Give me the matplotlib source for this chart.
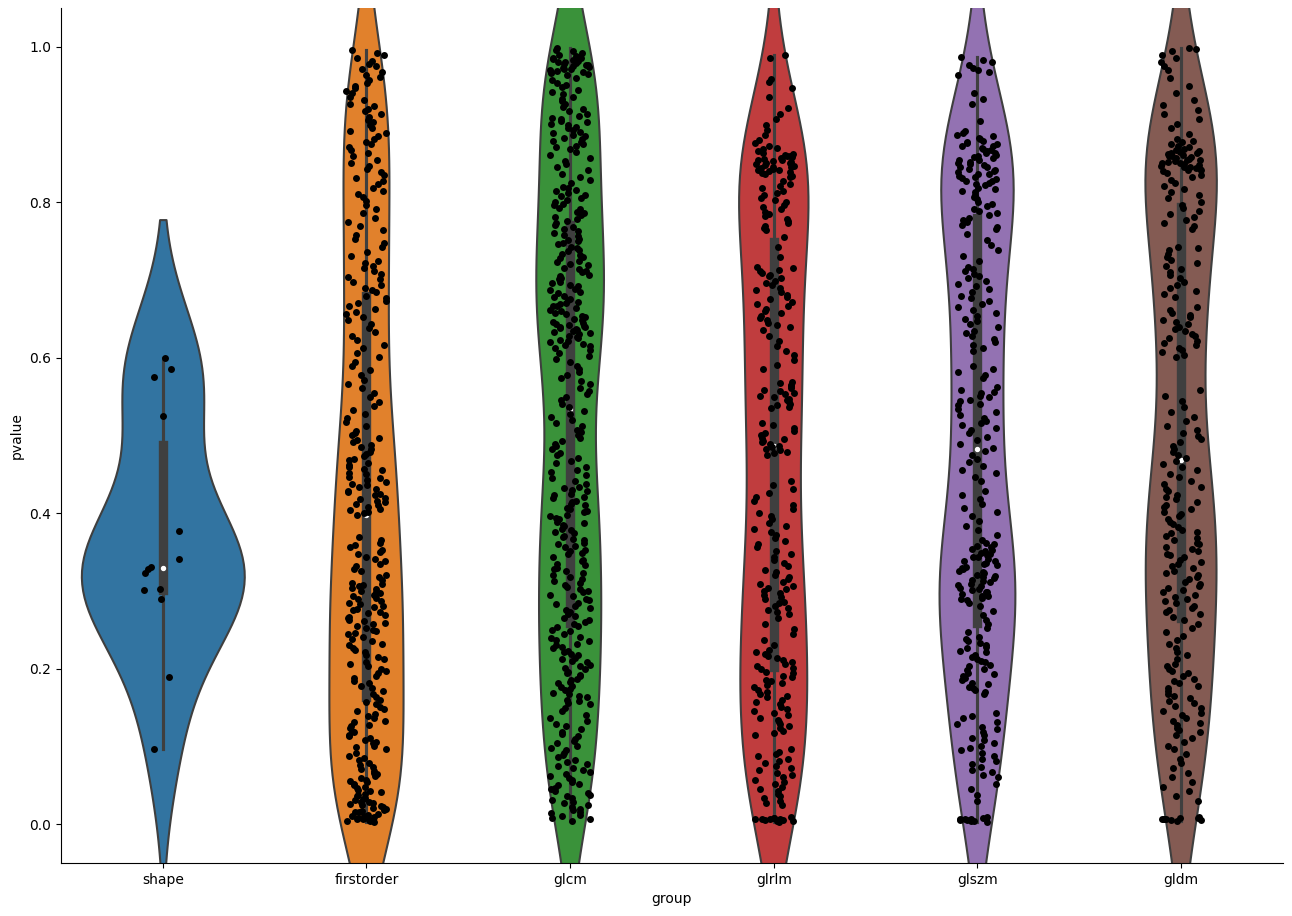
import numpy as np
import pandas as pd
import matplotlib
matplotlib.use('Agg')
import matplotlib.pyplot as plt
from matplotlib.collections import PolyCollection
import seaborn as sns

# p-values per feature group (in thousandths)
groups = ['shape', 'firstorder', 'glcm', 'glrlm', 'glszm', 'gldm']
colors = ['#3274a1', '#e1812c', '#3a923a', '#c03d3e', '#9372b2', '#845b53']

shape = [600, 585, 575, 525, 377, 341, 328, 331, 323, 303, 301, 290, 189, 96]

firstorder = [
    3, 4, 4, 5, 6, 7, 8, 9, 10, 11, 12, 13, 15, 16, 17, 18, 19, 21, 22, 23,
    24, 26, 27, 28, 29, 31, 32, 34, 36, 38, 39, 41, 43, 44, 46, 48, 50, 52, 54, 55,
    57, 59, 62, 64, 66, 68, 71, 73, 76, 79, 82, 85, 88, 92, 96,
    99, 101, 104, 106, 108, 111, 113, 115, 118, 120, 123, 126, 128, 131, 133, 136,
    139, 142, 145, 148, 151, 154, 157, 160, 163,
    168, 171, 175, 178, 181, 184, 188, 191, 194, 197, 200, 203, 206, 209, 212, 215,
    218, 221, 224, 227, 230, 232, 235, 238, 241,
    244, 246, 248, 250, 252, 255, 257, 259, 261, 263, 265, 267, 269, 271, 273, 275,
    277, 279, 281, 283, 285, 287, 289, 291, 293, 295, 297, 299, 300, 302, 304, 306,
    307, 309, 310,
    314, 318, 321, 325, 328, 332, 335, 338, 341, 344, 347, 350, 353, 356, 359, 362,
    365, 369,
    398, 400, 402, 404, 406, 408, 410, 412, 414, 416, 418, 420, 423, 425, 427, 429,
    431, 434, 436, 438, 440, 443, 445, 447, 450, 452, 455, 457, 460, 462, 465, 468,
    470, 473, 476, 479, 482, 485, 488, 491, 494, 497, 500, 503, 506,
    512, 517, 522, 527, 533, 538, 543, 549, 555, 561, 566, 571,
    578, 584, 589, 595, 601, 606, 612, 617, 623, 628, 633, 638, 643, 648,
    652, 656, 659, 663, 666, 670, 673, 677, 680, 684, 687, 690, 694, 697, 701, 704,
    708, 711, 715, 718, 722, 725,
    731, 736, 742, 747, 753, 758, 764, 769, 775, 780, 786, 791, 797, 802,
    807, 811, 815, 819, 823, 827, 831, 835, 839, 843, 847, 851, 855, 859, 863, 867,
    871, 875, 878, 881,
    885, 889, 892, 896, 899, 903, 906, 910, 913, 917, 920, 924, 927, 931,
    936, 940, 943, 947, 950, 954, 957, 961, 964, 968, 971, 975, 978, 982, 985, 989,
    992, 996,
]

glcm = [
    4, 6, 8, 10, 12, 14, 16, 18, 20, 22, 25, 27, 29, 31, 34, 36, 38, 40, 43, 45,
    47, 50, 52, 54, 57, 59, 62, 64, 67, 69, 72, 75, 77, 80, 83, 86, 89, 92, 95, 98,
    101, 104, 107, 110, 113, 116, 119, 122, 126, 129, 133, 137, 141, 145, 149,
    154, 156, 158, 160, 163, 165, 167, 169, 172, 174, 176, 178, 181, 183, 185, 187,
    190, 192, 194, 196, 199, 201, 203, 205, 208, 210, 212, 214, 217, 219, 221, 223,
    226, 228, 230, 232, 235, 237, 239, 241,
    245, 248, 250, 253, 255, 258, 260, 263, 265, 268, 270, 273, 275, 278, 280, 283,
    285, 288, 290, 293, 295, 298, 300, 303, 305, 308, 310, 313, 315, 318, 320, 323,
    325, 328, 330, 333, 335, 338, 340, 343,
    347, 349, 351, 353, 356, 358, 360, 362, 365, 367, 369, 371, 374, 376, 378, 380,
    383, 385, 387, 389, 392, 394, 396, 398, 401, 403, 405, 407, 410, 412, 414, 416,
    419, 421, 423, 425, 428, 430, 432, 434,
    438, 442, 445, 449, 453, 456, 460, 464, 467, 471, 475, 478, 482, 486, 489, 493,
    497, 500, 504, 507,
    512, 516, 520, 524, 528, 532, 537, 541, 545, 549, 553, 557, 561, 566, 570, 574,
    578, 582, 586, 590, 594, 598, 602, 606, 610,
    613, 615, 617, 618, 620, 622, 623, 625, 627, 628, 630, 632, 633, 635, 636, 637,
    638, 639, 640, 641, 642, 643, 645, 646, 648, 650, 652, 654, 656, 658, 660, 662,
    664, 666, 667, 669, 671, 672, 674, 676,
    678, 680, 683, 685, 687, 689, 692, 694, 696, 698, 701, 703, 705, 707, 710, 712,
    714, 716, 719, 721, 723, 725, 728, 730, 732, 734, 737, 739, 741, 743, 746, 748,
    750, 751, 753,
    756, 758, 761, 763, 766, 768, 771, 773, 776, 778, 781, 783, 786, 788, 791, 793,
    796, 798, 801, 803, 806, 808, 810, 812, 814, 816, 818, 820,
    825, 829, 833, 837, 841, 845, 849, 853, 857, 861, 865, 868,
    871, 873, 875, 877, 879, 881, 883, 885, 887, 889, 891, 893, 895, 897, 899, 901,
    903, 905, 907, 909, 911, 914, 917, 920, 923,
    927, 930, 933, 936, 939, 942, 945, 948, 951, 954, 957, 960,
    964, 965, 966, 967, 968, 969, 970, 971, 972, 973, 974, 975, 976, 977, 978, 979,
    980, 981, 982, 983, 984, 985, 986, 987, 988, 990, 992, 994, 996, 998,
]

glrlm = [
    3, 4, 4, 5, 5, 6, 6, 7, 7, 8, 8, 9,
    24, 27, 30, 33, 36, 39, 42, 45, 48, 51, 54, 57, 60, 63, 66, 69, 72, 75, 78, 81,
    84, 87, 90, 93, 96,
    114, 117, 120, 123, 126, 129, 131, 134, 137, 140, 143, 146, 148, 151, 154, 157,
    160, 163, 165, 168, 170, 173,
    176, 179, 181, 184, 186, 189, 191, 194, 196, 199, 201, 204, 206, 209, 211, 214,
    216, 219, 221, 224,
    230, 237, 244, 251, 258, 265,
    270, 273, 275, 278, 281, 284, 286, 289, 292, 295, 297, 300, 302, 304, 306, 309,
    312, 315, 318, 321, 324, 327,
    332, 336, 340, 344, 348, 352, 356, 360, 364, 368, 372, 376, 380, 384, 388, 392,
    396, 400,
    406, 411, 416, 421, 426, 431, 436, 441,
    475, 477, 479, 481, 483, 485, 487, 489, 491, 493, 495, 497, 500, 503, 506,
    510, 513, 516,
    535, 537, 539, 541, 543, 545, 547, 549, 551, 553, 555, 557, 559, 561, 563, 565,
    567, 569,
    585, 591, 597, 603, 609, 615, 621, 628,
    636, 639, 642, 645, 648, 651, 654, 657, 660, 663, 666, 669, 672, 675, 678, 681,
    684, 687, 690, 693, 696, 699, 702, 705, 707, 709, 711, 713, 715, 717,
    730, 742, 755,
    764, 767, 770, 773, 776, 779, 782, 785, 788, 791, 794, 797, 800, 803, 806, 809,
    812, 815, 818, 821, 824, 828,
    832, 834, 836, 838, 839, 840, 841, 842, 843, 844, 845, 846, 847, 848, 849, 850,
    851, 852, 853, 854, 855, 856, 857, 858, 859, 860, 861, 862, 864, 866, 868, 870,
    873, 876, 880,
    886, 893, 900, 907, 914, 921,
    935, 947, 955, 959,
    985, 990,
]

glszm = [
    3, 4, 4, 5, 5, 6, 6, 7, 8, 9,
    30, 38, 45, 52,
    60, 63, 67, 70, 74, 77, 81, 84, 88, 91, 95, 98, 101, 104, 108, 111, 115, 118,
    122, 125, 129, 132, 136, 139, 143,
    167, 170, 172, 175, 177, 180, 182, 185, 188, 190, 193, 195, 198, 200, 203, 205,
    208, 210, 213, 215, 218, 221, 223, 226, 228, 231, 233, 236, 238, 241,
    247, 252, 258, 263, 269, 274, 280, 285,
    288, 289, 291, 293, 294, 296, 298, 299, 301, 303, 304, 306, 308, 309, 311, 313,
    314, 316, 318, 319, 321, 323, 324, 326, 328, 329, 331, 333, 334, 336, 338, 339,
    341, 343, 344, 346, 348, 349, 351, 353, 354, 356, 358, 360, 362,
    366, 372, 378, 384, 390, 396, 402, 407, 412, 418, 424, 429,
    442, 447, 452, 456, 461, 466, 470, 475, 480, 484, 489, 494, 498, 503, 507,
    510, 513, 516, 519, 522, 526, 530, 534,
    539, 541, 544, 546, 549, 551, 554, 556, 559, 562,
    574, 578, 582, 586, 589,
    609, 613, 617, 620, 624, 628, 632, 635, 639, 643, 647, 650, 654, 658, 662, 665,
    669, 673, 677, 680, 684, 688, 692, 695, 699,
    702, 705, 708, 711, 714, 717,
    724, 731, 738, 745, 752, 759,
    765, 768, 771, 774, 777, 780, 783, 786, 789, 792, 795, 798, 801, 804, 807, 810,
    813, 815, 817, 819,
    822, 824, 825, 827, 828, 830, 831, 833, 834, 836, 837, 839, 840, 842, 843, 845,
    846, 848, 849, 851, 852, 854, 855, 857, 858, 860, 861, 863, 864, 866, 867, 869,
    870, 872, 873, 875, 876, 878, 879, 881, 883, 885, 887, 889, 892,
    905,
    926, 933, 940,
    964, 967, 970, 973, 977, 980, 983, 987,
]

gldm = [
    4, 5, 5, 6, 6, 7, 7, 8, 8, 9,
    30, 36, 42, 48, 54, 60, 66, 72, 78, 84, 90, 96, 101, 106, 111,
    115, 118, 121, 124, 127, 130, 133, 137, 140, 143, 146, 149, 152, 156, 159, 162,
    165, 168, 171, 175, 178, 181, 184, 187, 190, 194, 197, 200, 203, 206,
    212, 217, 222, 227, 232, 237, 242, 247, 252, 257, 262, 266,
    270, 273, 276, 278, 281, 284, 287, 290, 292, 295, 298, 301, 304, 306, 309, 312,
    315, 318, 320, 323, 326, 329, 332, 334, 337, 340, 343, 346, 348, 351, 354, 357,
    360, 362, 365, 368, 371, 374, 376, 379,
    382, 386, 389, 393, 396, 399, 402, 405, 408, 411, 414, 418, 421, 424, 428, 431,
    434, 438, 442, 446,
    451, 455, 459, 463, 467, 471, 475, 479, 483, 487, 491, 495, 499, 503, 507,
    512, 518, 524, 530, 537, 544, 551, 558,
    601, 604, 607, 610, 613, 616, 619, 622, 625, 628, 631, 634, 637, 640, 643, 646,
    649, 652, 655, 658, 661, 665,
    678, 682, 686, 690, 694, 698, 702, 706, 710, 714, 718, 722, 726, 730, 734, 738,
    741, 743,
    765, 769, 773, 777, 781, 785, 789, 793, 797, 801, 805, 809, 813, 817, 821, 825,
    829, 832, 835, 838,
    840, 841, 842, 843, 844, 845, 846, 847, 848, 849, 850, 851, 852, 853, 854, 855,
    856, 857, 858, 859, 860, 861, 862, 863, 864, 865, 866, 867, 869, 871, 873, 875,
    877, 879, 881,
    888, 895, 901, 907, 913, 919, 925, 931,
    940, 950, 960, 970,
    975, 980, 985, 990, 994, 997, 999,
]

values = [shape, firstorder, glcm, glrlm, glszm, gldm]
rows = []
for name, vals in zip(groups, values):
    for v in vals:
        rows.append((name, v / 1000))
df = pd.DataFrame(rows, columns=['group', 'pvalue'])

np.random.seed(3)
fig, ax = plt.subplots(figsize=(12.92, 9.16), dpi=100)
# no hue, so the area scaling is shared by all violins
sns.violinplot(data=df, x='group', y='pvalue', order=groups, color=colors[0],
               saturation=1, inner='box', cut=2, density_norm='area',
               linewidth=1.5, inner_kws=dict(marker='o', markersize=2.5),
               ax=ax)
violins = [c for c in ax.collections if isinstance(c, PolyCollection)]
for coll, col in zip(violins, colors):
    coll.set_facecolor(col)

sns.stripplot(data=df, x='group', y='pvalue', order=groups, color='black',
              size=5, jitter=True, ax=ax)
ax.set_ylim(-0.05, 1.05)
ax.set_xlim(-0.5, 5.5)
sns.despine(ax=ax)

plt.subplots_adjust(left=0.0472, right=0.993, top=0.9913, bottom=0.0579)
plt.savefig('out.png', dpi=100)
